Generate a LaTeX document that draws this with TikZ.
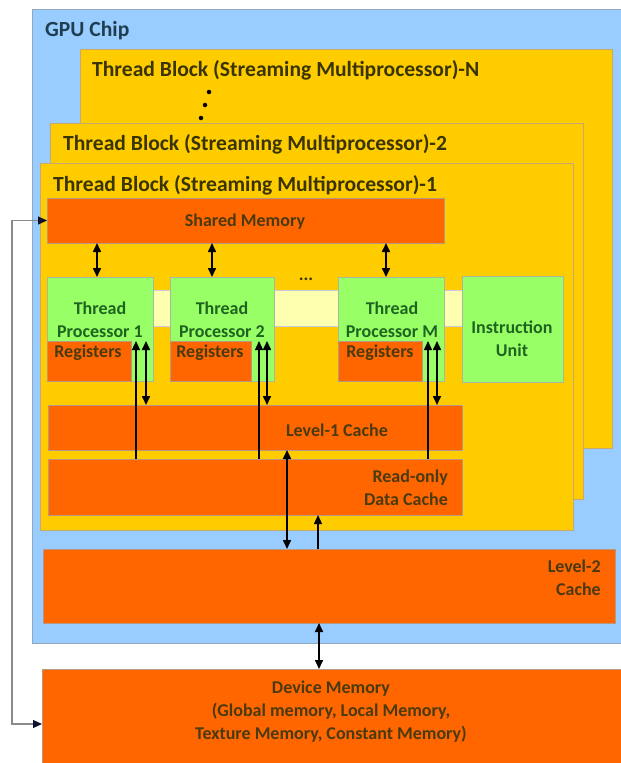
\documentclass[tikz,border=0pt]{standalone}
\usepackage{fontspec}
\setmainfont{Carlito}
\usetikzlibrary{arrows.meta}

\definecolor{chipblue}{HTML}{99CCFF}
\definecolor{chipedge}{HTML}{8FA8C0}
\definecolor{tbyellow}{HTML}{FFCC00}
\definecolor{tbedge}{HTML}{C8A870}
\definecolor{memorange}{HTML}{FF6600}
\definecolor{memedge}{HTML}{B89880}
\definecolor{procgreen}{HTML}{99FF66}
\definecolor{procedge}{HTML}{A8B8A0}
\definecolor{bandyellow}{HTML}{FFFFB0}
\definecolor{bandedge}{HTML}{C8C8E0}
\definecolor{chiptext}{HTML}{1F3F50}
\definecolor{tbtext}{HTML}{3A3500}
\definecolor{proctext}{HTML}{1E6420}
\definecolor{memtext}{HTML}{4A3A10}
\definecolor{feedgray}{HTML}{8A8A8A}
\definecolor{tipdark}{HTML}{101030}

\newcommand\ttlfont{\fontsize{21.6}{25}\selectfont\bfseries}
\newcommand\lblfont{\fontsize{18}{23}\selectfont\bfseries}

\tikzset{
  area/.style={inner sep=0pt, outer sep=0pt, anchor=north west, line width=0.8pt},
  chipbox/.style={area, draw=chipedge, fill=chipblue},
  tbbox/.style={area, draw=tbedge, fill=tbyellow},
  membox/.style={area, draw=memedge, fill=memorange},
  procbox/.style={area, draw=procedge, fill=procgreen},
  bandbox/.style={area, draw=bandedge, fill=bandyellow},
  ttl/.style={anchor=west, inner sep=0pt, font=\ttlfont, text=tbtext},
  lbl/.style={inner sep=0pt, font=\lblfont, align=center},
  dbl/.style={{Triangle[width=8pt,length=9pt]}-{Triangle[width=8pt,length=9pt]}, line width=1.6pt, black},
  sgl/.style={-{Triangle[width=8pt,length=9pt]}, line width=1.3pt, black},
  feed/.style={draw=feedgray, line width=1.2pt,
    {Triangle[width=8pt,length=9pt,color=tipdark]}-{Triangle[width=8pt,length=9pt,color=tipdark]}},
  dot/.style={circle, fill=black, inner sep=0pt, minimum size=4.5pt}
}

\begin{document}
\begin{tikzpicture}[x=1pt,y=-1pt]
\useasboundingbox (0,0) rectangle (621,763);
\clip (0,0) rectangle (621,763);

% chip outline
\node[chipbox, minimum width=600, minimum height=634] (chip) at (32,9) {};
\node[anchor=west, inner sep=0pt, font=\ttlfont, text=chiptext] (chiplbl) at (45,31) {GPU Chip};

% stacked thread blocks
\node[tbbox, minimum width=532, minimum height=399] (tbN) at (80,49) {};
\node[ttl] (tbNlbl) at (92,70) {Thread Block (Streaming Multiprocessor)-N};
\node[dot] (d1) at (209,92) {};
\node[dot] (d2) at (205,105) {};
\node[dot] (d3) at (201,118) {};

\node[tbbox, minimum width=533, minimum height=376] (tb2) at (50,123) {};
\node[ttl] (tb2lbl) at (63,144) {Thread Block (Streaming Multiprocessor)-2};

\node[tbbox, minimum width=533, minimum height=367] (tb1) at (40,163) {};
\node[ttl] (tb1lbl) at (53,185) {Thread Block (Streaming Multiprocessor)-1};

% shared memory
\node[membox, minimum width=397, minimum height=45] (sm) at (47,198) {};
\node[lbl, text=memtext] (smlbl) at (245,222) {Shared Memory};

% interconnect band behind the processors
\node[bandbox, minimum width=309, minimum height=36] (band) at (153,290) {};

% thread processors and their registers
\node[procbox, minimum width=106, minimum height=104] (tp1) at (47,277) {};
\node[membox, minimum width=84, minimum height=40] (reg1) at (47,341) {};
\node[procbox, minimum width=104, minimum height=104] (tp2) at (170,277) {};
\node[membox, minimum width=81, minimum height=40] (reg2) at (170,341) {};
\node[procbox, minimum width=106, minimum height=104] (tpM) at (338,277) {};
\node[membox, minimum width=84, minimum height=40] (regM) at (338,341) {};
\node[procbox, minimum width=101, minimum height=106] (iu) at (462,276) {};

\node[lbl, text=proctext] (tp1lbl) at (100,320) {Thread\\Processor 1};
\node[lbl, text=proctext] (tp2lbl) at (222,320) {Thread\\Processor 2};
\node[lbl, text=proctext] (tpMlbl) at (392,320) {Thread\\Processor M};
\node[lbl, text=proctext] (iulbl) at (512,339) {Instruction\\Unit};
\node[lbl, text=memtext] (reg1lbl) at (88,353) {Registers};
\node[lbl, text=memtext] (reg2lbl) at (210,353) {Registers};
\node[lbl, text=memtext] (regMlbl) at (380,353) {Registers};
\node[lbl, text=tbtext] (ellip) at (306,279) {...};

% caches
\node[membox, minimum width=414, minimum height=45] (l1) at (48,405) {};
\node[lbl, text=memtext] (l1lbl) at (337,430) {Level-1 Cache};
\node[membox, minimum width=414, minimum height=56] (ro) at (48,459) {};
\node[lbl, align=right, anchor=east, text=memtext] (rolbl) at (448,488) {Read-only\\Data Cache};
\node[membox, minimum width=572, minimum height=74] (l2) at (43,549) {};
\node[lbl, align=right, anchor=east, text=memtext] (l2lbl) at (601,578) {Level-2\\Cache};

% device memory
\node[membox, minimum width=600, minimum height=110] (dm) at (42,669) {};
\node[lbl, text=memtext] (dmlbl) at (331,712) {Device Memory\\(Global memory, Local Memory,\\Texture Memory, Constant Memory)};

% x positions of the vertical connectors
\coordinate (s1) at (97,0);
\coordinate (s2) at (212,0);
\coordinate (s3) at (386,0);
\coordinate (p1a) at (136,0);
\coordinate (p1b) at (146,0);
\coordinate (p2a) at (259,0);
\coordinate (p2b) at (267,0);
\coordinate (pMa) at (428,0);
\coordinate (pMb) at (437,0);
\coordinate (cx1) at (287,0);
\coordinate (cx2) at (318,0);
\coordinate (cx3) at (319,0);
\coordinate (fx) at (12,0);

% shared memory <-> processors
\draw[dbl] (sm.south -| s1) -- (tp1.north -| s1);
\draw[dbl] (sm.south -| s2) -- (tp2.north -| s2);
\draw[dbl] (sm.south -| s3) -- (tpM.north -| s3);

% processors <-> level-1 and read-only caches
\draw[sgl] (ro.north -| p1a) -- (reg1.north -| p1a);
\draw[dbl] (reg1.north -| p1b) -- (l1.north -| p1b);
\draw[sgl] (ro.north -| p2a) -- (reg2.north -| p2a);
\draw[dbl] (reg2.north -| p2b) -- (l1.north -| p2b);
\draw[sgl] (ro.north -| pMa) -- (regM.north -| pMa);
\draw[dbl] (regM.north -| pMb) -- (l1.north -| pMb);

% cache hierarchy
\draw[dbl] (l1.south -| cx1) -- (l2.north -| cx1);
\draw[sgl] (l2.north -| cx2) -- (ro.south -| cx2);
\draw[dbl] (l2.south -| cx3) -- (dm.north -| cx3);

% shared memory <-> device memory path
\draw[feed] (sm.west) -- (sm.west -| fx) |- (dm.west);
\end{tikzpicture}
\end{document}
